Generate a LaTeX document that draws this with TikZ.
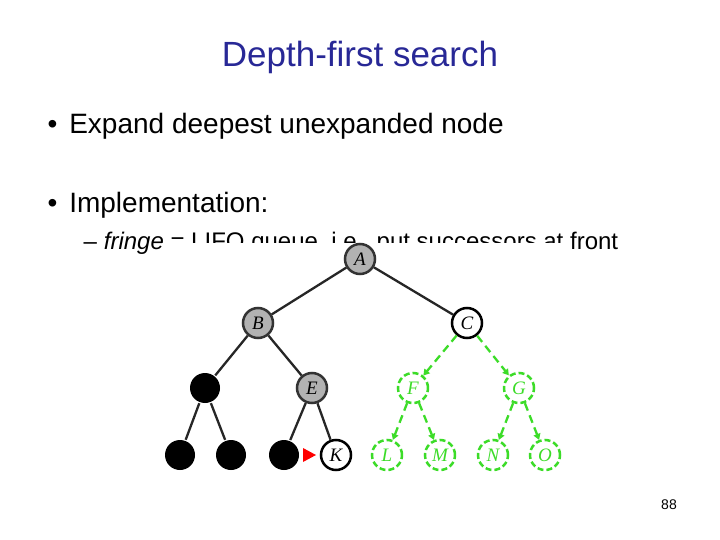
\documentclass[tikz,border=0pt]{standalone}
\usepackage{fontspec}
\setmainfont{Liberation Sans}
\newfontfamily\nodefont{Liberation Serif}
\usetikzlibrary{arrows.meta}
\definecolor{titleblue}{RGB}{40,40,150}
\definecolor{fgreen}{RGB}{60,220,40}
\begin{document}
\begin{tikzpicture}[x=1pt,y=-1pt,
  tn/.style={circle,minimum size=30pt,inner sep=0pt,line width=2.5pt,font=\nodefont\itshape\fontsize{19}{19}\selectfont},
  gn/.style={tn,draw=black!80,fill=black!30},
  bn/.style={tn,fill=black},
  wn/.style={tn,draw=black,fill=white},
  fn/.style={tn,draw=fgreen,text=fgreen,dash pattern=on 6pt off 3pt},
  e/.style={line width=2.3pt,black!85},
  fe/.style={line width=2.3pt,fgreen,dash pattern=on 8pt off 5pt,-{Triangle[length=6pt,width=7pt]}}]
\useasboundingbox (0,0) rectangle (720,540);
\node[titleblue,font=\fontsize{35}{40}\selectfont] (title) at (360,57) {Depth-first search};
\node[anchor=base west,font=\fontsize{28}{32}\selectfont] (b1) at (44,134) {•\hspace{12pt}Expand deepest unexpanded node};
\node[anchor=base west,font=\fontsize{28}{32}\selectfont] (b2) at (44,213) {•\hspace{12pt}Implementation:};
\node[anchor=base west,font=\fontsize{24}{28}\selectfont] (b3) at (80,249) {–\hspace{7pt}\textit{fringe} = LIFO queue, i.e., put successors at front};
\fill[white] (162,243) rectangle (565,478);
\node[gn] (A) at (360,259) {A};
\node[gn] (B) at (258,323) {B};
\node[wn] (C) at (467,323) {C};
\node[bn] (D) at (205,388) {};
\node[gn] (E) at (312,388) {E};
\node[fn] (F) at (413,388) {F};
\node[fn] (G) at (519,388) {G};
\node[bn] (H) at (180,455) {};
\node[bn] (I) at (231,455) {};
\node[bn] (J) at (284,455) {};
\node[wn] (K) at (336,455) {K};
\node[fn] (L) at (387,455) {L};
\node[fn] (M) at (440,455) {M};
\node[fn] (N) at (493,455) {N};
\node[fn] (O) at (545,455) {O};
\draw[e] (A)--(B); \draw[e] (A)--(C);
\draw[e] (B)--(D); \draw[e] (B)--(E);
\draw[e] (D)--(H); \draw[e] (D)--(I);
\draw[e] (E)--(J); \draw[e] (E)--(K);
\draw[fe] (C)--(F); \draw[fe] (C)--(G);
\draw[fe] (F)--(L); \draw[fe] (F)--(M);
\draw[fe] (G)--(N); \draw[fe] (G)--(O);
\coordinate (rt) at (309,455);
\fill[red] (rt) ++(-6,-7) -- ++(13,7) -- ++(-13,7) -- cycle;
\node[font=\fontsize{14}{16}\selectfont] (pg) at (669,505) {88};
\end{tikzpicture}
\end{document}
